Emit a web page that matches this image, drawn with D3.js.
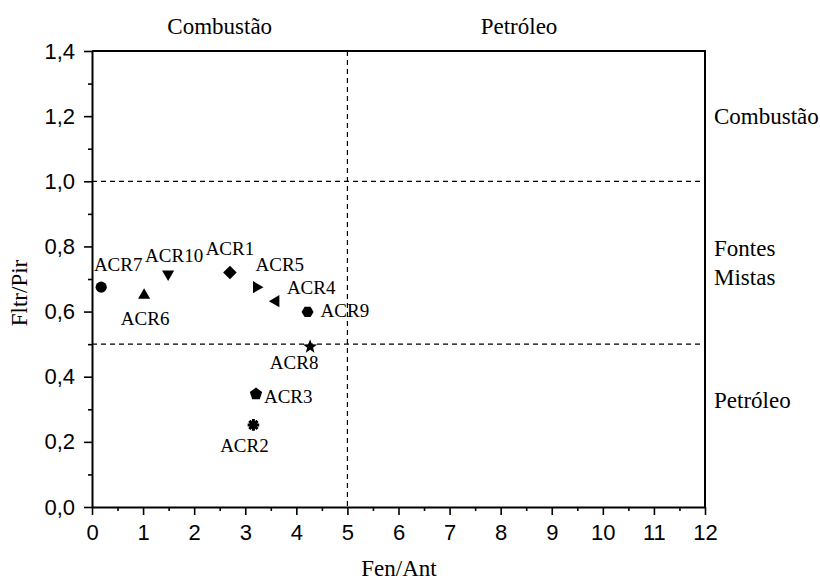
<!DOCTYPE html>
<html>
<head>
<meta charset="utf-8">
<script src="https://cdn.jsdelivr.net/npm/d3@7"></script>
<style>
  html, body { margin: 0; padding: 0; background: #fff; }
  svg { display: block; }
  .tick text { font-family: "Liberation Sans", Arial, sans-serif; font-size: 22px; fill: #000; }
</style>
</head>
<body>
<svg id="chart" width="820" height="580"></svg>
<script>
// Sample identifiers and the two diagnostic PAH ratios
const samples = ["ACR1", "ACR2", "ACR3", "ACR4", "ACR5", "ACR6", "ACR7", "ACR8", "ACR9", "ACR10"];
const fenAnt  = [2.70, 3.16, 3.21, 3.60, 3.22, 1.02, 0.18, 4.27, 4.22, 1.49];
const fltrPir = [0.720, 0.252, 0.347, 0.632, 0.675, 0.650, 0.675, 0.492, 0.599, 0.715];
const markerShapes = ["diamond", "asterisk", "pentagon", "triLeft", "triRight", "triUp", "circle", "star", "hexagon", "triDown"];

// Axis ticks and threshold lines
const xTicks = [0, 1, 2, 3, 4, 5, 6, 7, 8, 9, 10, 11, 12];
const yTicks = [0, 0.2, 0.4, 0.6, 0.8, 1.0, 1.2, 1.4];
const xThresholds = [5];
const yThresholds = [0.5, 1.0];
const topZones = [{ label: "Combustão", x: 2.5 }, { label: "Petróleo", x: 8.36 }];
const sideZones = [{ lines: ["Combustão"], y: 1.2 }, { lines: ["Fontes", "Mistas"], y: 0.75 }, { lines: ["Petróleo"], y: 0.33 }];

const SERIF = "'Liberation Serif', 'Times New Roman', Tinos, Times, serif";

const svg = d3.select("#chart");
const plot = { left: 92, right: 705, top: 51, bottom: 507 };

const x = d3.scaleLinear().domain([0, 12]).range([plot.left, plot.right]);
const y = d3.scaleLinear().domain([0, 1.4]).range([plot.bottom, plot.top]);

// Threshold (dashed) lines
const dash = svg.append("g").attr("stroke", "#000").attr("stroke-width", 1.2).attr("stroke-dasharray", "5,4");
xThresholds.forEach(v => dash.append("line")
  .attr("x1", x(v)).attr("x2", x(v)).attr("y1", plot.top).attr("y2", plot.bottom));
yThresholds.forEach(v => dash.append("line")
  .attr("x1", plot.left).attr("x2", plot.right).attr("y1", y(v)).attr("y2", y(v)));

// Frame: top and right edges
svg.append("path")
  .attr("d", `M${plot.left},${plot.top}H${plot.right}V${plot.bottom}`)
  .attr("fill", "none").attr("stroke", "#000").attr("stroke-width", 2);

// Minor ticks
const minorX = d3.range(0.5, 12, 1);
const minorY = d3.range(0.1, 1.4, 0.2);
svg.append("g").attr("transform", `translate(0,${plot.bottom})`)
  .call(d3.axisBottom(x).tickValues(minorX).tickSize(4).tickFormat(""))
  .call(g => g.select(".domain").remove())
  .selectAll("line").attr("stroke-width", 1.6);
svg.append("g").attr("transform", `translate(${plot.left},0)`)
  .call(d3.axisLeft(y).tickValues(minorY).tickSize(4).tickFormat(""))
  .call(g => g.select(".domain").remove())
  .selectAll("line").attr("stroke-width", 1.6);

// Major axes
const fmtY = d => d3.format(".1f")(d).replace(".", ",");
svg.append("g").attr("transform", `translate(0,${plot.bottom})`)
  .call(d3.axisBottom(x).tickValues(xTicks).tickSize(8).tickPadding(9.5).tickSizeOuter(0).tickFormat(d3.format("d")))
  .call(g => g.select(".domain").attr("stroke-width", 2))
  .call(g => g.selectAll(".tick line").attr("stroke-width", 1.6));
svg.append("g").attr("transform", `translate(${plot.left},0)`)
  .call(d3.axisLeft(y).tickValues(yTicks).tickSize(8).tickPadding(9).tickSizeOuter(0).tickFormat(fmtY))
  .call(g => g.select(".domain").attr("stroke-width", 2))
  .call(g => g.selectAll(".tick line").attr("stroke-width", 1.6));

// Serif text helper
const serifText = (sel, size) => sel.attr("font-family", SERIF).attr("font-size", size).attr("fill", "#000");

// Axis titles
svg.append("text")
  .call(serifText, 23)
  .attr("x", 399).attr("y", 576)
  .attr("text-anchor", "middle").text("Fen/Ant");
svg.append("text")
  .call(serifText, 23)
  .attr("transform", `translate(27,${293}) rotate(-90)`)
  .attr("text-anchor", "middle").text("Fltr/Pir");

// Zone labels above the plot
svg.append("g").selectAll("text").data(topZones).join("text")
  .call(serifText, 23)
  .attr("x", d => x(d.x)).attr("y", 34)
  .attr("text-anchor", "middle").text(d => d.label);

// Zone labels right of the plot
const side = svg.append("g").selectAll("text").data(sideZones).join("text")
  .call(serifText, 23)
  .attr("x", 714)
  .attr("y", d => y(d.y) + 8 - (d.lines.length - 1) * 14.5);
side.selectAll("tspan").data(d => d.lines).join("tspan")
  .attr("x", 714).attr("dy", (d, i) => i === 0 ? 0 : 29).text(d => d);

// Marker shapes
function polygon(n, rot) {
  return { draw(ctx, size) {
    const r = Math.sqrt(size);
    for (let i = 0; i < n; i++) {
      const a = rot + i * 2 * Math.PI / n;
      const px = r * Math.cos(a), py = r * Math.sin(a);
      if (i === 0) ctx.moveTo(px, py); else ctx.lineTo(px, py);
    }
    ctx.closePath();
  } };
}
const starShape = { draw(ctx, size) {
  const r = Math.sqrt(size), ri = r * 0.42;
  for (let i = 0; i < 10; i++) {
    const a = -Math.PI / 2 + i * Math.PI / 5;
    const rr = i % 2 ? ri : r;
    const px = rr * Math.cos(a), py = rr * Math.sin(a);
    if (i === 0) ctx.moveTo(px, py); else ctx.lineTo(px, py);
  }
  ctx.closePath();
} };
const circleShape = { draw(ctx, size) {
  const r = Math.sqrt(size);
  ctx.moveTo(r, 0); ctx.arc(0, 0, r, 0, 2 * Math.PI);
} };
const asteriskShape = { draw(ctx, size) {
  const r = Math.sqrt(size);
  for (let i = 0; i < 4; i++) {
    const a = i * Math.PI / 4;
    ctx.moveTo(r * Math.cos(a), r * Math.sin(a));
    ctx.lineTo(-r * Math.cos(a), -r * Math.sin(a));
  }
} };
const shapes = {
  circle:   { type: circleShape, r: 5.6 },
  triUp:    { type: polygon(3, -Math.PI / 2), r: 7 },
  triDown:  { type: polygon(3, Math.PI / 2), r: 7 },
  triRight: { type: polygon(3, 0), r: 7 },
  triLeft:  { type: polygon(3, Math.PI), r: 7 },
  diamond:  { type: polygon(4, 0), r: 6.8 },
  pentagon: { type: polygon(5, -Math.PI / 2), r: 6.5 },
  hexagon:  { type: polygon(6, 0), r: 6 },
  star:     { type: starShape, r: 7.4 },
  asterisk: { type: asteriskShape, r: 5.8, stroke: true }
};

// Label placement relative to each marker: [anchor, dx, dy]
const labelPlace = {
  ACR1: ["middle", 0, -17], ACR2: ["middle", -9, 27], ACR3: ["start", 8, 9],
  ACR4: ["start", 11, -7], ACR5: ["start", -1, -16], ACR6: ["middle", 1, 30],
  ACR7: ["middle", 17, -16], ACR8: ["middle", -16, 22], ACR9: ["start", 13, 5],
  ACR10: ["middle", 6, -12]
};

const points = samples.map((s, i) => ({ name: s, fx: fenAnt[i], fy: fltrPir[i], shape: markerShapes[i] }));

const marks = svg.append("g");
marks.selectAll("path").data(points).join("path")
  .attr("transform", d => `translate(${x(d.fx)},${y(d.fy)})`)
  .attr("d", d => d3.symbol().type(shapes[d.shape].type).size(shapes[d.shape].r ** 2)())
  .attr("fill", d => shapes[d.shape].stroke ? "none" : "#000")
  .attr("stroke", d => shapes[d.shape].stroke ? "#000" : "none")
  .attr("stroke-width", d => shapes[d.shape].stroke ? 3 : 0);

svg.append("g").selectAll("text").data(points).join("text")
  .call(serifText, 19)
  .attr("x", d => x(d.fx) + labelPlace[d.name][1])
  .attr("y", d => y(d.fy) + labelPlace[d.name][2])
  .attr("text-anchor", d => labelPlace[d.name][0])
  .text(d => d.name);
</script>
</body>
</html>
